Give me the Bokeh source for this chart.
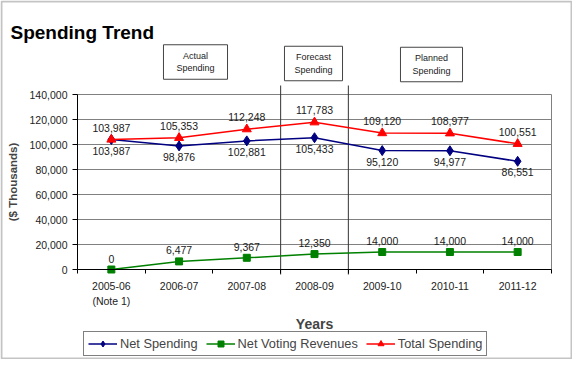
from bokeh.plotting import figure
from bokeh.models import (ColumnDataSource, FixedTicker, NumeralTickFormatter, Legend,
                          LegendItem, Label, Range1d, BoxAnnotation)
from bokeh.core.properties import value
from bokeh.embed import file_html
from bokeh.resources import INLINE

# ---- data ----
years = ["2005-06\n(Note 1)", "2006-07", "2007-08", "2008-09", "2009-10", "2010-11", "2011-12"]
net_spending = [103987, 98876, 102881, 105433, 95120, 94977, 86551]
net_voting_revenues = [0, 6477, 9367, 12350, 14000, 14000, 14000]
total_spending = [103987, 105353, 112248, 117783, 109120, 108977, 100551]
y_ticks = [0, 20000, 40000, 60000, 80000, 100000, 120000, 140000]
phase_labels = ["Actual\nSpending", "Forecast\nSpending", "Planned\nSpending"]
phase_breaks = [3, 4]  # boundaries between phases (category index)

FONT = "Liberation Sans"
N = len(years)
xs = [i + 0.5 for i in range(N)]
YMAX = 140000

# ---- geometry (canvas pixels) ----
W, H = 572, 359
PL, PR = 77, 551           # plot-area left / right
PT, PB = 94, 269           # plot-area top (140,000) / bottom (0)
ux = (PR - PL) / N         # px per category
uy = YMAX / (PB - PT)      # value per px
def dx(cx):
    return (cx - PL) / ux
def dy(cy):
    return (PB - cy) * uy

# the frame covers the whole canvas; axes are pinned at 0
p = figure(width=W, height=H, output_backend="svg", toolbar_location=None,
           x_range=Range1d(dx(0), dx(W)), y_range=Range1d(dy(H), dy(0)),
           min_border=0, min_border_left=0, min_border_right=0,
           min_border_top=0, min_border_bottom=0)
p.background_fill_color = "white"
p.border_fill_color = "white"
p.outline_line_color = None
p.xgrid.visible = False
p.ygrid.visible = False

# outer chart border
p.add_layout(BoxAnnotation(left=dx(1), right=dx(W - 1), top=dy(1), bottom=dy(H - 1),
                           fill_color=None, fill_alpha=0,
                           line_color="#3c3c3c", line_width=2))

# title
p.add_layout(Label(x=dx(10), y=dy(32), text="Spending Trend", text_font=FONT,
                   text_font_size="19px", text_font_style="bold", text_color="black",
                   text_align="left", text_baseline="alphabetic"))

# horizontal gridlines and right edge of the plot area
p.segment(x0=[0] * len(y_ticks), y0=y_ticks, x1=[N] * len(y_ticks), y1=y_ticks,
          line_color="#808080", line_width=1)
p.segment(x0=[N], y0=[0], x1=[N], y1=[YMAX], line_color="#808080", line_width=1)

# phase separators
p.segment(x0=phase_breaks, y0=[dy(274)] * len(phase_breaks), x1=phase_breaks,
          y1=[dy(85)] * len(phase_breaks), line_color="#333333", line_width=1)

# phase boxes
box_pos = [(195, 61.5), (313, 63), (431, 64)]
box_pad = [(13, 13, 6, 6), (10, 10, 6, 6), (12, 12, 6, 6)]
for (cx, cy), pad, txt in zip(box_pos, box_pad, phase_labels):
    p.add_layout(Label(x=dx(cx), y=dy(cy), text=txt, text_font=FONT,
                       text_font_size="9px", text_color="#222222",
                       text_align="center", text_baseline="middle",
                       text_line_height=1.25,
                       border_line_color="#444444", border_line_width=1,
                       background_fill_color="white", padding=pad))

# y axis
ya = p.yaxis[0]
ya.fixed_location = 0
ya.bounds = (0, YMAX)
ya.ticker = FixedTicker(ticks=y_ticks)
ya.formatter = NumeralTickFormatter(format="0,0")
ya.axis_line_color = "black"
ya.major_tick_line_color = "black"
ya.major_tick_out = 5
ya.major_tick_in = 0
ya.minor_tick_line_color = None
ya.major_label_standoff = 5
ya.major_label_text_font = FONT
ya.major_label_text_font_size = "10.5px"
ya.major_label_text_color = "#222222"
ya.axis_label = "($ Thousands)"
ya.axis_label_text_font = FONT
ya.axis_label_text_font_style = "bold"
ya.axis_label_text_font_size = "11.5px"
ya.axis_label_standoff = 8

# x axis
xa = p.xaxis[0]
xa.fixed_location = 0
xa.bounds = (0, N)
xa.ticker = FixedTicker(ticks=xs, minor_ticks=list(range(N + 1)))
xa.major_label_overrides = {x: lab for x, lab in zip(xs, years)}
xa.axis_line_color = "black"
xa.major_tick_line_color = None
xa.major_tick_out = 4
xa.minor_tick_line_color = "black"
xa.minor_tick_out = 4
xa.minor_tick_in = 0
xa.major_label_standoff = 6
xa.major_label_text_font = FONT
xa.major_label_text_font_size = "10.5px"
xa.major_label_text_color = "#222222"
xa.major_label_text_line_height = 1.3
xa.axis_label = "Years"
xa.axis_label_text_font = FONT
xa.axis_label_text_font_style = "bold"
xa.axis_label_text_font_size = "14px"
xa.axis_label_standoff = 6

# series
src = ColumnDataSource(dict(
    x=xs, net=net_spending, rev=net_voting_revenues, tot=total_spending,
    net_lab=[f"{v:,}" for v in net_spending],
    rev_lab=[f"{v:,}" for v in net_voting_revenues],
    tot_lab=[f"{v:,}" for v in total_spending],
))

series = [
    ("Net Spending", "net", "#000080", "diamond", 10),
    ("Net Voting Revenues", "rev", "#008000", "square", 7),
    ("Total Spending", "tot", "#FF0000", "triangle", 9),
]
items = []
for name, col, color, marker, size in series:
    l = p.line("x", col, source=src, line_color=color, line_width=1.5)
    m = p.scatter("x", col, source=src, marker=marker, size=size,
                  fill_color=color, line_color=color)
    items.append(LegendItem(label=name, renderers=[l, m]))

common = dict(source=src, text_font=value(FONT), text_font_size="10.5px",
              text_color="#1a1a1a", text_align="center", text_baseline="middle")
p.text("x", "tot", text="tot_lab", y_offset=-12, **common)
p.text("x", "net", text="net_lab", y_offset=11, **common)
p.text("x", "rev", text="rev_lab", y_offset=-11, **common)

legend = Legend(items=items, orientation="horizontal", location=(83, 3),
                label_text_font=FONT, label_text_font_size="12.8px",
                label_standoff=3, spacing=8, padding=4, margin=0,
                glyph_width=29, glyph_height=15, label_height=15,
                border_line_color="black", border_line_width=1,
                background_fill_color="white")
p.add_layout(legend, "center")

open("out.html", "w").write(file_html(p, INLINE))
